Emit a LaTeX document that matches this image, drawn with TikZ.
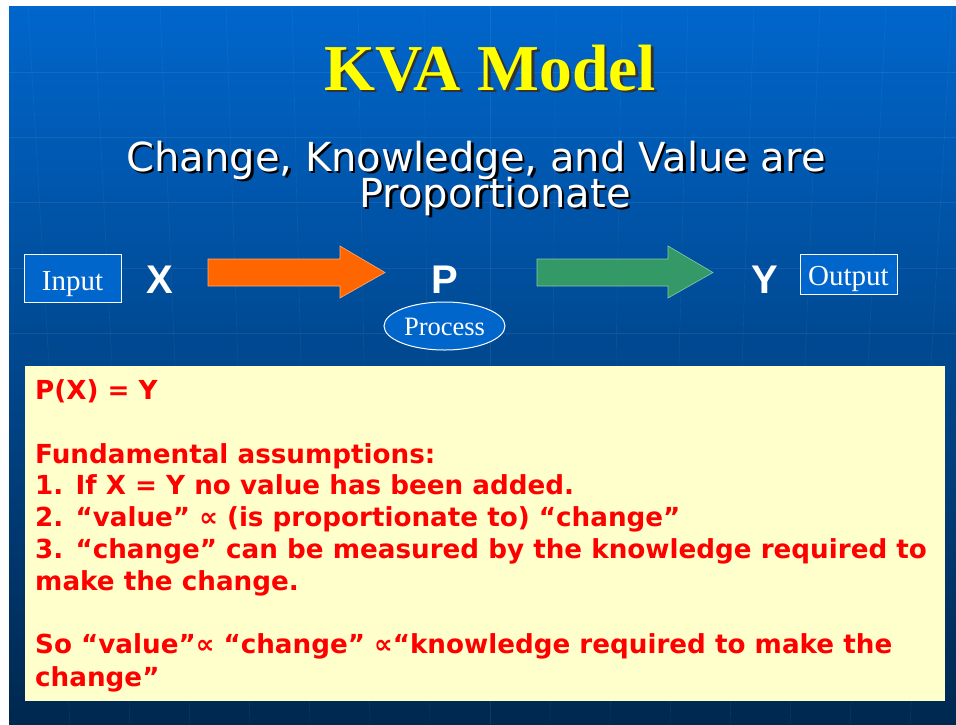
\documentclass[tikz,border=0pt]{standalone}
\usepackage{fontspec}
\setmainfont{Liberation Serif}
\setsansfont{DejaVu Sans}
\newfontfamily\arialfont{Liberation Sans}
\usetikzlibrary{shapes.geometric}
\definecolor{slidetop}{HTML}{0066CC}
\definecolor{slidebot}{HTML}{00284F}
\definecolor{boxblue}{HTML}{0066CC}
\definecolor{notefill}{HTML}{FFFFCC}
\definecolor{notered}{HTML}{FF0000}
\definecolor{titleyellow}{HTML}{FFFF00}
\definecolor{orangearr}{HTML}{FF6600}
\definecolor{greenarr}{HTML}{339966}
\newcommand\dropshade[2]{\makebox[0pt][l]{\hspace{2.5pt}\raisebox{-2.5pt}{\color{#1}#2}}#2}
\begin{document}
\begin{tikzpicture}[x=1pt,y=-1pt,
	txtbase/.style={inner sep=0pt,anchor=base},
	titlefont/.style={txtbase,font=\bfseries\fontsize{65.5}{66}\selectfont},
	subfont/.style={txtbase,font=\sffamily\fontsize{40}{40}\selectfont},
	iobox/.style={draw=white,fill=boxblue,line width=1pt,inner sep=0pt,text=white,text height=24pt,text depth=0pt,font=\fontsize{29}{29}\selectfont},
	letter/.style={txtbase,text=white,font=\arialfont\bfseries\fontsize{40}{40}\selectfont},
	noteline/.style={inner sep=0pt,anchor=base west,text=notered,font=\sffamily\bfseries\fontsize{26.2}{26.2}\selectfont}]
			\useasboundingbox (0,0) rectangle (956,724);
			\fill [white] (0,0) rectangle (956,724);
			\shade [top color=slidetop,bottom color=slidebot] (9,6) rectangle (956,724);
			\foreach \g in {72,137,202,268,333}
				\draw [white,opacity=.07] (9,\g) -- (956,\g);
			\foreach \i in {-7,...,7}
				\draw [white,opacity=.07] (490+\i*66,6) -- (490+\i*60,724);
			
			\node [titlefont,text=titleyellow] (title) at (490,90) {\dropshade{black!80}{KVA Model}};
			\node [subfont,text=white] (sub1) at (476,171) {\dropshade{black}{Change, Knowledge, and Value are}};
			\node [subfont,text=white] (sub2) at (495,207) {\dropshade{black}{Proportionate}};
			
			\node [iobox,minimum width=97,minimum height=48] (input) at (72.5,278) {Input};
			\node [letter] (x) at (160,293) {X};
			\filldraw [fill=orangearr,draw=orangearr!55!white,line width=.6pt] (208,259) -- (340,259) -- (340,246) -- (385,272.5) -- (340,298) -- (340,286) -- (208,286) -- cycle;
			\node [letter] (p) at (445,293) {P};
			\node [iobox,ellipse,minimum width=121,minimum height=48,text height=18pt,font=\fontsize{26.5}{26.5}\selectfont] (process) at (444.5,326) {Process};
			\filldraw [fill=greenarr,draw=greenarr!55!white,line width=.6pt] (537,259) -- (668,259) -- (668,246) -- (713,272.5) -- (668,298) -- (668,286) -- (537,286) -- cycle;
			\node [letter] (y) at (765,293) {Y};
			\node [iobox,minimum width=97,minimum height=40,text height=22pt] (output) at (848.5,274) {Output};
			
			\node [fill=notefill,inner sep=0pt,anchor=north west,minimum width=920,minimum height=335] (notes) at (25,366) {};
			\foreach \y/\t in {399/{P(X) = Y},463/{Fundamental assumptions:},494/{1. If X = Y no value has been added.},526/{2. “value” ∝ (is proportionate to) “change”},558/{3. “change” can be measured by the knowledge required to},590/{make the change.},653/{So “value”∝ “change” ∝“knowledge required to make the},686/{change”}}
				\node [noteline] at (35,\y) {\t};
		\end{tikzpicture}
\end{document}
